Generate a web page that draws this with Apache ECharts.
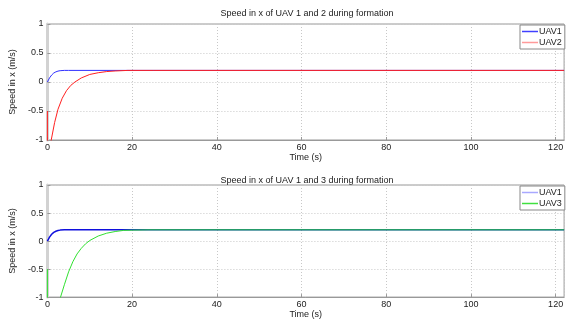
<!DOCTYPE html>
<html>
<head>
<meta charset="utf-8">
<script src="https://cdn.jsdelivr.net/npm/echarts@6/dist/echarts.min.js"></script>
<style>
html,body{margin:0;padding:0;background:#fff;}
#c{width:566px;height:320px;}
</style>
</head>
<body>
<div id="c"></div>
<script>
// ---- data ----
const titleTop = 'Speed in x of UAV 1 and 2 during formation';
const titleBottom = 'Speed in x of UAV 1 and 3 during formation';
const xName = 'Time (s)';
const yName = 'Speed in x (m/s)';

const uav1T = [0, 0.5, 1, 1.5, 2, 2.5, 3, 4, 5, 122];
const uav1V = [0, 0.07, 0.12, 0.155, 0.175, 0.188, 0.195, 0.2, 0.2, 0.2];

const uav2T = [0, 0, 0.4, 0.9, 1.7, 2.5, 3.5, 4.5, 5.5, 6.5, 8, 10, 12, 14, 16, 19, 25, 122];
const uav2V = [-0.5, -1.35, -1.2, -1, -0.7, -0.47, -0.28, -0.15, -0.06, 0, 0.07, 0.13, 0.16, 0.18, 0.19, 0.2, 0.2, 0.2];

const uav3T = [0, 0, 1.5, 3.1, 4, 5, 6, 7, 8, 9, 10, 12, 14, 16, 18, 20, 24, 122];
const uav3V = [-0.5, -1.9, -1.4, -1, -0.78, -0.55, -0.37, -0.23, -0.13, -0.05, 0.01, 0.09, 0.14, 0.17, 0.19, 0.195, 0.2, 0.2];

const xMin = 0, xMax = 122, xStep = 20;
const yMin = -1, yMax = 1, yStep = 0.5;

function pairs(t, v) { return t.map((x, i) => [x, v[i]]); }

const font = 'Liberation Sans, Arial, sans-serif';
const txt = '#222';

function xAxis(gi) {
  return {
    type: 'value', gridIndex: gi, min: xMin, max: xMax, interval: xStep,
    name: xName, nameLocation: 'middle', nameGap: 10,
    nameTextStyle: { fontSize: 9, color: txt, fontFamily: font },
    axisLine: { show: true, onZero: false, lineStyle: { color: '#999', width: 1 } },
    axisTick: { show: true, inside: true, length: 3, lineStyle: { color: '#999' } },
    axisLabel: { fontSize: 9, color: txt, fontFamily: font, margin: 3, showMaxLabel: false },
    splitLine: { show: true, lineStyle: { color: '#c8c8c8', type: [1, 2], width: 1 } }
  };
}
function yAxis(gi) {
  return {
    type: 'value', gridIndex: gi, min: yMin, max: yMax, interval: yStep,
    name: yName, nameLocation: 'middle', nameGap: 25, nameRotate: 90,
    nameTextStyle: { fontSize: 9, color: txt, fontFamily: font },
    axisLine: { show: true, onZero: false, lineStyle: { color: '#d2d2d2', width: 3 } },
    axisTick: { show: true, inside: true, length: 3, lineStyle: { color: '#999' } },
    axisLabel: { fontSize: 9, color: txt, fontFamily: font, margin: 4 },
    splitLine: { show: true, lineStyle: { color: '#c8c8c8', type: [1, 2], width: 1 } }
  };
}

function legendCfg(top, items) {
  return {
    orient: 'vertical', left: 520, top: top, itemWidth: 16, itemHeight: 1.5, itemGap: 0,
    icon: 'rect',
    padding: [1, 3, 1, 2], borderColor: '#888', borderWidth: 1, backgroundColor: '#fff',
    textStyle: { fontSize: 9, color: txt, fontFamily: font, padding: [0, 0, 0, -4], lineHeight: 11 },
    data: items
  };
}

const chart = echarts.init(document.getElementById('c'), null, { renderer: 'canvas' });
chart.setOption({
  animation: false,
  backgroundColor: '#fff',
  title: [
    { text: titleTop, left: 302, top: 4, textAlign: 'center',
      textStyle: { fontSize: 9, fontWeight: 'normal', color: txt, fontFamily: font } },
    { text: titleBottom, left: 302, top: 171, textAlign: 'center',
      textStyle: { fontSize: 9, fontWeight: 'normal', color: txt, fontFamily: font } }
  ],
  grid: [
    { left: 39, top: 24, width: 526, height: 116, show: true, borderColor: '#999', borderWidth: 1, backgroundColor: 'transparent' },
    { left: 39, top: 185, width: 526, height: 117, show: true, borderColor: '#999', borderWidth: 1, backgroundColor: 'transparent' }
  ],
  xAxis: [xAxis(0), xAxis(1)],
  yAxis: [yAxis(0), yAxis(1)],
  legend: [
    legendCfg(25, [
      { name: 'UAV1', itemStyle: { color: '#4040ff' } },
      { name: 'UAV2', itemStyle: { color: '#ff9a9a' } }
    ]),
    legendCfg(186, [
      { name: 'UAV1', itemStyle: { color: '#a8a8ff' } },
      { name: 'UAV3', itemStyle: { color: '#40e040' } }
    ])
  ],
  series: [
    { name: 'UAV1', type: 'line', xAxisIndex: 0, yAxisIndex: 0, data: pairs(uav1T, uav1V),
      showSymbol: false, symbol: 'none', clip: true, lineStyle: { color: '#3030ff', width: 1 }, itemStyle: { color: '#3030ff' } },
    { name: 'UAV2', type: 'line', xAxisIndex: 0, yAxisIndex: 0, data: pairs(uav2T, uav2V),
      showSymbol: false, symbol: 'none', clip: true, lineStyle: { color: '#ff2020', width: 1 }, itemStyle: { color: '#ff2020' } },
    { name: 'UAV1', type: 'line', xAxisIndex: 1, yAxisIndex: 1, data: pairs(uav1T, uav1V),
      showSymbol: false, symbol: 'none', clip: true, lineStyle: { color: '#1010dd', width: 1.5 }, itemStyle: { color: '#1010dd' } },
    { name: 'UAV3', type: 'line', xAxisIndex: 1, yAxisIndex: 1, data: pairs(uav3T, uav3V),
      showSymbol: false, symbol: 'none', clip: true, lineStyle: { color: '#30e030', width: 1 }, itemStyle: { color: '#30e030' } }
  ]
});
</script>
</body>
</html>
